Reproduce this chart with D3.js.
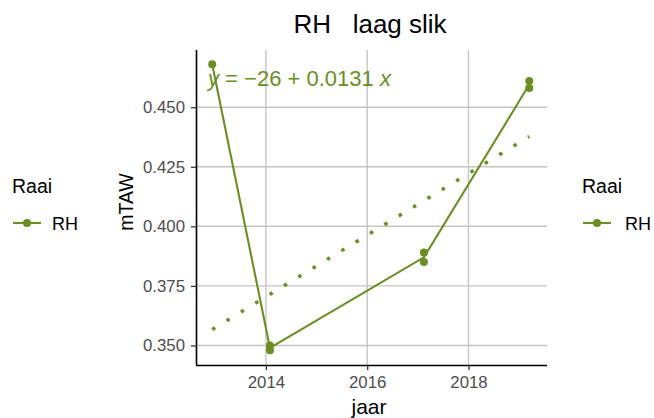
<!DOCTYPE html>
<html><head><meta charset="utf-8">
<script src="https://cdn.jsdelivr.net/npm/d3@7"></script>
<style>
body{margin:0;background:#fff;}
text{font-family:"Liberation Sans",Arial,sans-serif;}
</style></head>
<body><svg id="c" width="654" height="418"></svg>
<script>
const title = "RH   laag slik";
const seriesName = "RH";
const years  = [2012.94, 2014.08, 2014.08, 2017.12, 2017.12, 2019.2, 2019.2];
const values = [0.468, 0.350, 0.348, 0.389, 0.385, 0.461, 0.458];
const trendYears  = [2012.94, 2019.2];
const trendValues = [0.3567, 0.4377];
const xTicks = [2014, 2016, 2018];
const yTicks = [0.350, 0.375, 0.400, 0.425, 0.450];
const equation = ["y", " = \u221226 + 0.0131 ", "x"];

const green = "#6b8e23";
const svg = d3.select("#c");
const L = 196, R = 547, T = 50, B = 365;
const x = d3.scaleLinear().domain([2012.62, 2019.55]).range([L, R]);
const y = d3.scaleLinear().domain([0.3418, 0.474]).range([B, T]);

// grid
svg.append("g").selectAll("line").data(xTicks).join("line")
  .attr("x1", d => x(d)).attr("x2", d => x(d)).attr("y1", T).attr("y2", B)
  .attr("stroke", "#c4c4c4").attr("stroke-width", 1.4);
svg.append("g").selectAll("line").data(yTicks).join("line")
  .attr("y1", d => y(d)).attr("y2", d => y(d)).attr("x1", L).attr("x2", R)
  .attr("stroke", "#c4c4c4").attr("stroke-width", 1.4);

// axes
const xAxis = svg.append("g").attr("transform", `translate(0,${B})`)
  .call(d3.axisBottom(x).tickValues(xTicks).tickFormat(d3.format("d")).tickSize(5).tickPadding(6));
const yAxis = svg.append("g").attr("transform", `translate(${L},0)`)
  .call(d3.axisLeft(y).tickValues(yTicks).tickFormat(d3.format(".3f")).tickSize(5).tickPadding(6));
[xAxis, yAxis].forEach(a => {
  a.attr("font-size", null).attr("font-family", null);
  a.select(".domain").attr("stroke", "#000").attr("stroke-width", 1.6);
  a.selectAll(".tick line").attr("stroke", "#333").attr("stroke-width", 1.3);
  a.selectAll(".tick text").attr("fill", "#4d4d4d").style("font-size", "16.8px");
});
xAxis.select(".domain").attr("d", `M${L},0.5H${R}`);
yAxis.select(".domain").attr("d", `M0.5,${B}V${T}`);

// trend
svg.append("path")
  .attr("d", d3.line().x(d => x(d[0])).y(d => y(d[1]))(trendYears.map((v, i) => [v, trendValues[i]])))
  .attr("fill", "none").attr("stroke", green).attr("stroke-width", 3.5)
  .attr("stroke-dasharray", "3.5 13.3");

// mean line
const means = d3.rollups(years.map((v, i) => [v, values[i]]), g => d3.mean(g, d => d[1]), d => d[0])
  .sort((a, b) => a[0] - b[0]);
svg.append("path")
  .attr("d", d3.line().x(d => x(d[0])).y(d => y(d[1]))(means))
  .attr("fill", "none").attr("stroke", green).attr("stroke-width", 2.1);

svg.append("g").selectAll("circle").data(years.map((v, i) => [v, values[i]])).join("circle")
  .attr("cx", d => x(d[0])).attr("cy", d => y(d[1])).attr("r", 4).attr("fill", green);

// equation
const eq = svg.append("text").attr("x", 208).attr("y", 86).style("font-size", "22px")
  .style("white-space", "pre").attr("fill", green);
eq.append("tspan").attr("font-style", "italic").text(equation[0]);
eq.append("tspan").text(equation[1]);
eq.append("tspan").attr("font-style", "italic").text(equation[2]);

// titles
svg.append("text").attr("x", 370).attr("y", 33).attr("text-anchor", "middle")
  .style("font-size", "26px").style("white-space", "pre").attr("fill", "#000").text(title);
svg.append("text").attr("x", 369).attr("y", 414).attr("text-anchor", "middle")
  .style("font-size", "21px").attr("fill", "#000").text("jaar");
svg.append("text").attr("transform", `translate(133,202) rotate(-90)`).attr("text-anchor", "middle")
  .style("font-size", "19.5px").attr("fill", "#000").text("mTAW");

// legends
function legend(x0, lx) {
  const g = svg.append("g").attr("transform", `translate(${x0},0)`);
  g.append("text").attr("x", 0).attr("y", 193).style("font-size", "19.5px").attr("fill", "#000").text("Raai");
  g.append("line").attr("x1", 1).attr("x2", 29).attr("y1", 223).attr("y2", 223)
    .attr("stroke", green).attr("stroke-width", 2.1);
  g.append("circle").attr("cx", 15).attr("cy", 223).attr("r", 4).attr("fill", green);
  g.append("text").attr("x", lx).attr("y", 229.5).style("font-size", "18px").attr("fill", "#000").text(seriesName);
}
legend(12, 40);
legend(582, 43);
</script></body></html>
